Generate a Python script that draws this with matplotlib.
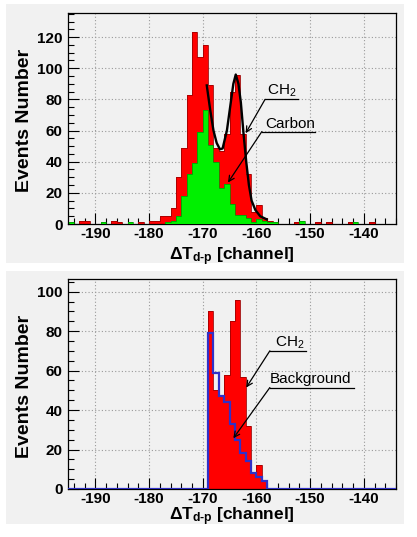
import numpy as np
import matplotlib
matplotlib.use("Agg")
import matplotlib.pyplot as plt
from matplotlib.patches import Rectangle
from matplotlib.ticker import MultipleLocator

plt.rcParams['font.family'] = ['Liberation Sans', 'DejaVu Sans']
plt.rcParams['mathtext.fontset'] = 'custom'
plt.rcParams['mathtext.rm'] = 'Liberation Sans'
plt.rcParams['mathtext.bf'] = 'Liberation Sans:bold'
plt.rcParams['axes.unicode_minus'] = False

# ---- data (counts per 1-channel bin, left edges from -196 to -135) ----
chan_lo, chan_hi = -196, -135
ch2_counts = [0, 0, 0, 2, 2, 0, 0, 0, 0, 2,
              1, 0, 0, 0, 1, 0, 2, 2, 5, 5,
              10, 30, 49, 83, 123, 107, 115, 89, 49, 47,
              58, 85, 96, 58, 32, 8, 12, 4, 2, 1,
              0, 0, 0, 1, 0, 0, 0, 1, 0, 1,
              0, 0, 0, 1, 0, 0, 0, 1, 0, 0,
              0, 0]
carbon_counts = [0, 1, 0, 0, 0, 0, 0, 1, 0, 0,
                 0, 0, 1, 0, 0, 0, 0, 0, 0, 1,
                 2, 5, 18, 32, 39, 59, 73, 51, 40, 23,
                 26, 13, 6, 6, 4, 1, 3, 2, 1, 1,
                 0, 0, 0, 0, 2, 0, 0, 0, 0, 0,
                 0, 0, 0, 0, 1, 0, 0, 0, 0, 0,
                 0, 0]

# fit curve on the CH2 spectrum
fit_x = [-169.25, -168.6, -168.0, -167.4, -166.8, -166.3, -165.5, -164.9,
         -164.3, -163.85, -163.35, -162.9, -162.4, -161.9, -161.4, -160.9,
         -160.2, -159.3, -158.1]
fit_y = [89, 73, 60, 52, 48, 48.5, 60, 75, 90, 96, 90, 78, 58, 40, 25, 15,
         9, 5, 3]

# bottom panel: CH2 with background, bins starting at -169
sel_lo = -169
ch2_sel = [90, 50, 47, 58, 85, 96, 57, 32, 8, 12, 4]
background = [79, 59, 47, 44, 33, 25, 18, 14, 8, 6, 4]

edges = np.arange(chan_lo, chan_hi + 2)
sel_edges = np.arange(sel_lo, sel_lo + len(ch2_sel) + 1)

# ---- figure ----
fig = plt.figure(figsize=(4.17, 5.37), dpi=100)
W, H = 417.0, 537.0
panel_col = '#f1f1f1'
fig.patches.append(Rectangle((6 / W, 1 - 263 / H), 398 / W, 259 / H,
                             transform=fig.transFigure, facecolor=panel_col,
                             edgecolor='none', zorder=-5))
fig.patches.append(Rectangle((6 / W, 1 - 524 / H), 398 / W, 253 / H,
                             transform=fig.transFigure, facecolor=panel_col,
                             edgecolor='none', zorder=-5))

ax1 = fig.add_axes([68 / W, 1 - 224 / H, 328 / W, 211 / H])
ax2 = fig.add_axes([68 / W, 1 - 489 / H, 328 / W, 210 / H])


def style_axis(ax, ymax, label_y):
    ax.set_facecolor(panel_col)
    ax.set_xlim(-195.1, -134)
    ax.set_ylim(0, ymax)
    ax.xaxis.set_major_locator(MultipleLocator(10))
    ax.xaxis.set_minor_locator(MultipleLocator(2))
    ax.yaxis.set_major_locator(MultipleLocator(20))
    ax.yaxis.set_minor_locator(MultipleLocator(5))
    ax.tick_params(which='both', direction='in', top=False, right=False,
                   labelsize=11, width=0.8)
    ax.tick_params(which='major', length=8)
    ax.tick_params(which='minor', length=4)
    ax.tick_params(axis='x', pad=2)
    ax.tick_params(axis='y', pad=4)
    for lab in ax.get_xticklabels() + ax.get_yticklabels():
        lab.set_fontweight('bold')
    ax.grid(True, which='major', linestyle=(0, (1, 2)), color='#9a9a9a',
            linewidth=0.8)
    ax.set_axisbelow(True)
    for sp in ax.spines.values():
        sp.set_linewidth(0.9)
    ax.set_ylabel('Events Number', fontsize=14, fontweight='bold')
    ax.yaxis.set_label_coords(-0.107, 0.49)
    ax.set_xlabel('$\\mathbf{\\Delta T_{d\u2010p}}$ [channel]', fontsize=12.5,
                  fontweight='bold')
    ax.xaxis.set_label_coords(0.5, label_y)


# top panel
ax1.stairs(ch2_counts, edges, fill=True, color='#ff0000', zorder=2)
ax1.stairs(ch2_counts, edges, color='#a00000', linewidth=0.6, zorder=2.1)
ax1.stairs(carbon_counts, edges, fill=True, color='#00f000', zorder=3)
ax1.stairs(carbon_counts, edges, color='#009000', linewidth=0.5, zorder=3.1)
ax1.plot(fit_x, fit_y, color='black', linewidth=1.7, zorder=4)
style_axis(ax1, 135.5, -0.10)

arr = dict(arrowstyle='->', color='black', lw=0.9, shrinkA=0, shrinkB=0)
ax1.text(-158.1, 83, r'CH$_\mathrm{2}$', fontsize=11, zorder=5)
ax1.plot([-158.4, -152.3], [80, 80], color='black', lw=0.9, zorder=5)
ax1.annotate('', xy=(-162.0, 58.3), xytext=(-158.4, 80), arrowprops=arr,
             zorder=5)
ax1.text(-158.4, 61.5, 'Carbon', fontsize=11, zorder=5)
ax1.plot([-159.0, -149.1], [59.3, 59.3], color='black', lw=0.9, zorder=5)
ax1.annotate('', xy=(-165.3, 26.6), xytext=(-159.0, 59.3), arrowprops=arr,
             zorder=5)

# bottom panel
full_bkg = np.zeros(len(edges) - 1)
full_bkg[sel_lo - chan_lo:sel_lo - chan_lo + len(background)] = background
ax2.stairs(ch2_sel, sel_edges, fill=True, color='#ff0000', zorder=2)
ax2.stairs(ch2_sel, sel_edges, color='#a00000', linewidth=0.6, zorder=2.1)
ax2.stairs(full_bkg, edges, color='#3030c8', linewidth=1.6, zorder=3)
style_axis(ax2, 106.4, -0.08)

ax2.text(-156.5, 72.5, r'CH$_\mathrm{2}$', fontsize=11, zorder=5)
ax2.plot([-157.5, -150.7], [70, 70], color='black', lw=0.9, zorder=5)
ax2.annotate('', xy=(-161.9, 51.4), xytext=(-157.5, 70), arrowprops=arr,
             zorder=5)
ax2.text(-157.5, 53.8, 'Background', fontsize=11, zorder=5)
ax2.plot([-157.5, -141.9], [51.4, 51.4], color='black', lw=0.9, zorder=5)
ax2.annotate('', xy=(-164.3, 25.7), xytext=(-157.5, 51.4), arrowprops=arr,
             zorder=5)

fig.savefig('out.png', dpi=100)
